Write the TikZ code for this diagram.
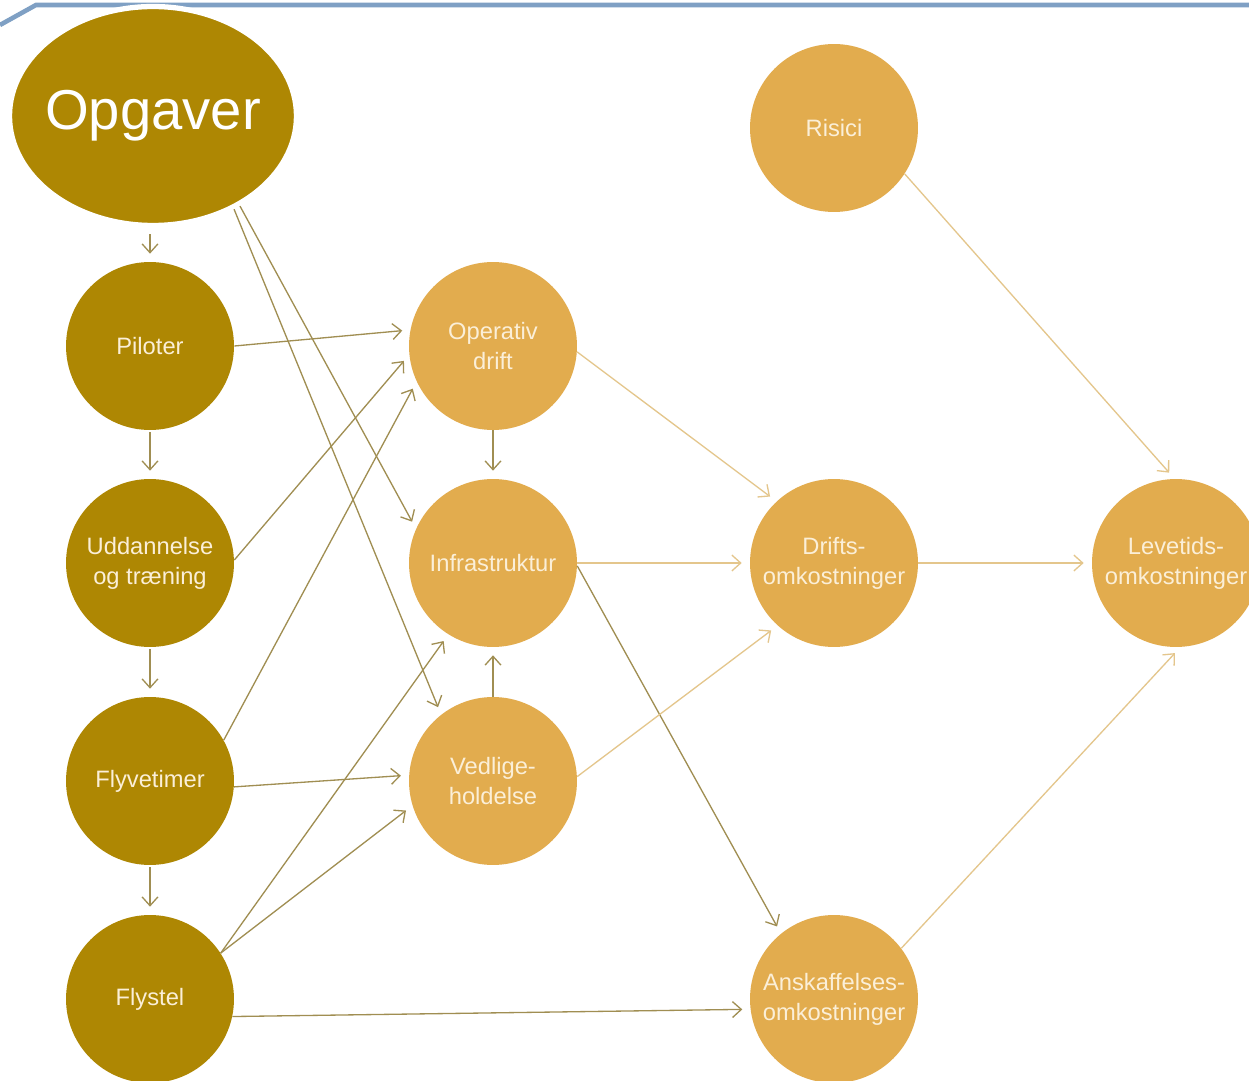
\documentclass[tikz,border=0pt]{standalone}
\usepackage{fontspec}
\setmainfont{Liberation Sans}
\usepackage{tikz}
\usetikzlibrary{shapes.geometric,arrows.meta,calc}
\definecolor{colordk}{HTML}{AE8703}
\definecolor{colorlt}{HTML}{E2AC4E}
\definecolor{colorln}{HTML}{A08E52}
\definecolor{colorll}{HTML}{E4C68C}
\definecolor{colortx}{HTML}{FBEFD8}
\definecolor{colorbl}{HTML}{7FA0C4}
\tikzset{
  taskdk/.style={circle, fill=colordk, text=colortx, minimum size=3.36cm,
    inner sep=0pt, align=center, font=\fontsize{13.5}{17}\selectfont},
  tasklt/.style={taskdk, fill=colorlt},
  edgedk/.style={colorln, line width=0.75pt,
    -{Straight Barb[length=5pt,width=9pt]}, shorten >=0.16cm},
  edgelt/.style={edgedk, colorll}
}

\begin{document}
\begin{tikzpicture}[x=0.02cm, y=-0.02cm]
\clip (0,0) rectangle (1249,1081);
\fill[white] (0,0) rectangle (1249,1081);

\draw[colorbl, line width=2.6pt] (0,25) -- (36,5) -- (1249,5);

\node[ellipse, fill=colordk, draw=white, line width=3pt, inner sep=0pt,
  minimum width=5.74cm, minimum height=4.38cm, text=white,
  font=\fontsize{32}{38}\selectfont](opg) at (153,116)
  {\makebox[0pt]{Opgaver}};

\node[taskdk](pil) at (150,346) {Piloter};
\node[taskdk](udd) at (150,563) {Uddannelse\\og træning};
\node[taskdk](fly) at (150,781) {Flyvetimer};
\node[taskdk](stel) at (150,999) {Flystel};

\node[tasklt](op) at (493,346) {Operativ\\drift};
\node[tasklt](inf) at (493,563) {Infrastruktur};
\node[tasklt](ved) at (493,781) {Vedlige-\\holdelse};

\node[tasklt](ris) at (834,128) {Risici};
\node[tasklt](dri) at (834,563) {Drifts-\\omkostninger};
\node[tasklt](ansk) at (834,999) {Anskaffelses-\\omkostninger};

\node[tasklt](lev) at (1176,563) {Levetids-\\omkostninger};

\draw[edgedk, shorten <=0.12cm] (opg.south -| pil.north) -- (pil.north);
\draw[edgedk, shorten <=0.04cm] (pil.south) -- (udd.north);
\draw[edgedk, shorten <=0.04cm] (udd.south) -- (fly.north);
\draw[edgedk, shorten <=0.04cm] (fly.south) -- (stel.north);

\draw[edgedk] (opg.-46) -- (inf.156);
\draw[edgedk] (opg.-49) -- (ved.128);

\draw[edgedk] (pil.0) -- (op.169);
\draw[edgedk] (udd.2) -- (op.186);
\draw[edgedk] (fly.29) -- (op.205);
\draw[edgedk] (fly.-4) -- (ved.176);
\draw[edgedk] (stel.33) -- (inf.238);
\draw[edgedk] (stel.33) -- (ved.197);
\draw[edgedk] (stel.-12) -- (ansk.187);

\draw[edgedk] (op.south) -- (inf.north);
\draw[edgedk] (ved.north) -- (inf.south);

\draw[edgelt] (op.-4) -- (dri.133);
\draw[edgelt] (inf.east) -- (dri.west);
\draw[edgedk] (inf.-2) -- (ansk.129);
\draw[edgelt] (ved.3) -- (dri.228);

\draw[edgelt] (ris.-33) -- (lev.91);
\draw[edgelt] (dri.east) -- (lev.west);
\draw[edgelt] (ansk.37) -- (lev.273);
\end{tikzpicture}
\end{document}
